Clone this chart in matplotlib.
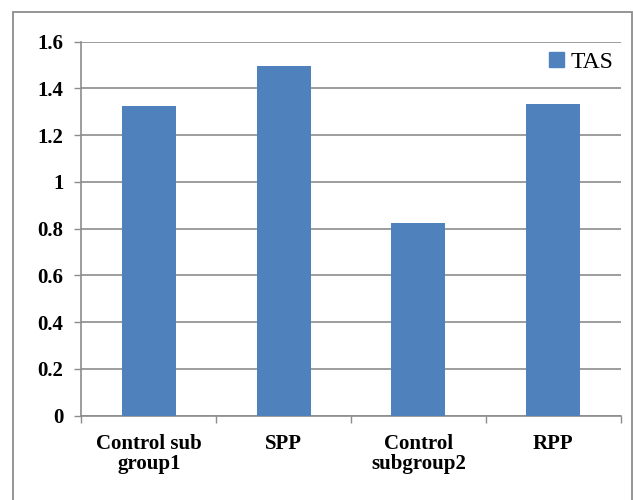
import matplotlib
matplotlib.use("Agg")
import matplotlib.pyplot as plt
from matplotlib.patches import Rectangle, Patch
import numpy as np

categories = ["Control sub\ngroup1", "SPP", "Control\nsubgroup2", "RPP"]
tas = [1.325, 1.497, 0.826, 1.333]
y_ticks = [0, 0.2, 0.4, 0.6, 0.8, 1.0, 1.2, 1.4, 1.6]
y_tick_labels = ["0", "0.2", "0.4", "0.6", "0.8", "1", "1.2", "1.4", "1.6"]

BAR = "#4F81BD"
GRID = "#8c8c8c"

plt.rcParams["font.family"] = "serif"
plt.rcParams["font.serif"] = ["Liberation Serif", "Times New Roman", "DejaVu Serif"]

fig = plt.figure(figsize=(6.33, 5.0), dpi=100)
ax = fig.add_axes([0.1285, 0.1686, 0.8521, 0.748])

x = np.arange(len(categories))
ax.bar(x, tas, width=0.4, color=BAR, zorder=3, label="TAS")

ax.set_xlim(-0.5, len(categories) - 0.5)
ax.set_ylim(0, 1.6)
ax.set_yticks(y_ticks)
ax.set_yticklabels(y_tick_labels, fontsize=15, fontweight="bold")
ax.set_xticks(x)
ax.set_xticklabels(categories, fontsize=15, fontweight="bold", linespacing=1.0)
ax.tick_params(axis="x", length=0, pad=13)
# category boundary ticks
ax.set_xticks(np.arange(-0.5, len(categories)), minor=True)
ax.tick_params(axis="x", which="minor", length=5, color=GRID, width=1)
ax.tick_params(axis="y", length=5, color=GRID, width=1, pad=8)

ax.yaxis.grid(True, color=GRID, linewidth=1.2, zorder=0)
for side in ["top", "right"]:
    ax.spines[side].set_visible(False)
for side in ["left", "bottom"]:
    ax.spines[side].set_color(GRID)
    ax.spines[side].set_linewidth(1.2)

ax.legend(handles=[Patch(color=BAR, label="TAS")], loc="upper right",
          bbox_to_anchor=(1.013, 1.01), frameon=False, fontsize=17,
          handlelength=0.6, handleheight=0.6, handletextpad=0.3,
          borderaxespad=0.2)

# outer chart border
fig.patches.append(Rectangle((13 / 633, -0.01), (632 - 13) / 633, 1 - 12 / 500 + 0.01,
                             transform=fig.transFigure, fill=False,
                             edgecolor="#8c8c8c", linewidth=1.3))

fig.savefig("out.png", dpi=100)
